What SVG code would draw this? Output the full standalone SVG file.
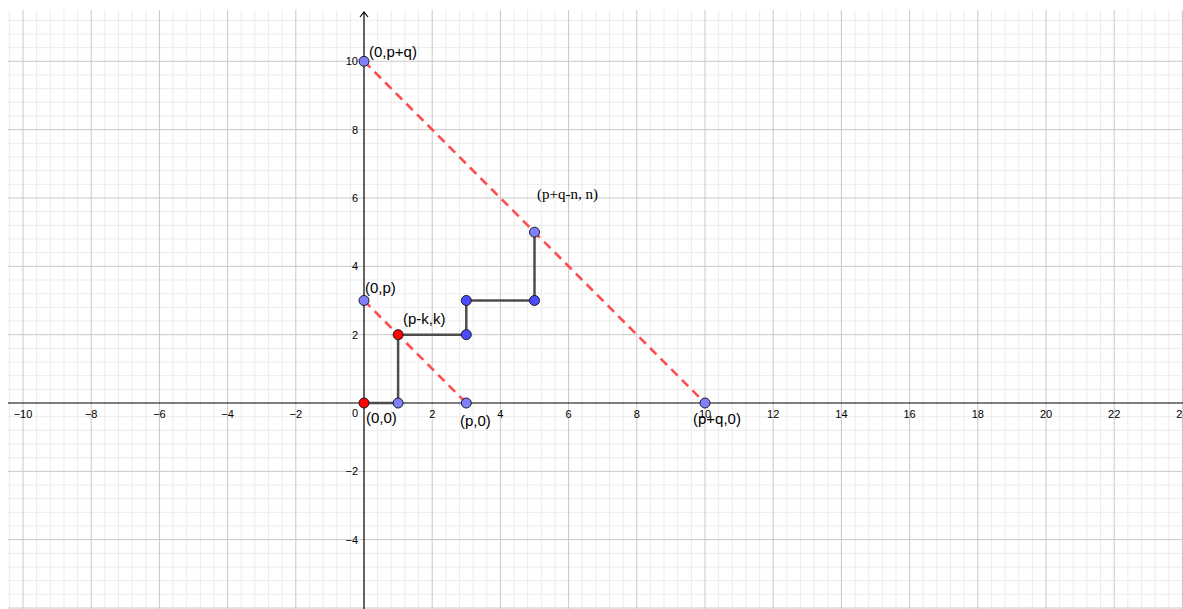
<svg xmlns="http://www.w3.org/2000/svg" width="1183" height="609" viewBox="0 0 1183 609">
<style>
.minor{stroke:#ececec;stroke-width:1;fill:none}
.major{stroke:#c8c8c8;stroke-width:1;fill:none}
.axis{stroke:#000;stroke-width:1.2;fill:none}
.tick{font-family:"Liberation Sans",Arial,sans-serif;font-size:11px;fill:#000}
.tx{text-anchor:middle}
.ty{text-anchor:end}
.lbl{font-family:"Liberation Sans",Arial,sans-serif;font-size:15px;fill:#000}
.lbls{font-family:"Liberation Serif","Times New Roman",serif;font-size:15px;fill:#000}
.dash{stroke:#ff4d4d;stroke-width:2.6;stroke-dasharray:9 6;fill:none}
.seg{stroke:#4d4d4d;stroke-width:2.5;fill:none}
.pl{fill:#8080ff;stroke:#1a1a1a;stroke-width:1}
.pd{fill:#4d4dff;stroke:#1a1a1a;stroke-width:1}
.pr{fill:#ff0000;stroke:#1a1a1a;stroke-width:1}
</style>
<rect width="1183" height="609" fill="#fff"/>
<g id="grid">
<path class="minor" d="M9.36 10V609M36.64 10V609M50.28 10V609M63.92 10V609M77.56 10V609M104.84 10V609M118.48 10V609M132.12 10V609M145.76 10V609M173.04 10V609M186.68 10V609M200.32 10V609M213.96 10V609M241.24 10V609M254.88 10V609M268.52 10V609M282.16 10V609M309.44 10V609M323.08 10V609M336.72 10V609M350.36 10V609M377.64 10V609M391.28 10V609M404.92 10V609M418.56 10V609M445.84 10V609M459.48 10V609M473.12 10V609M486.76 10V609M514.04 10V609M527.68 10V609M541.32 10V609M554.96 10V609M582.24 10V609M595.88 10V609M609.52 10V609M623.16 10V609M650.44 10V609M664.08 10V609M677.72 10V609M691.36 10V609M718.64 10V609M732.28 10V609M745.92 10V609M759.56 10V609M786.84 10V609M800.48 10V609M814.12 10V609M827.76 10V609M855.04 10V609M868.68 10V609M882.32 10V609M895.96 10V609M923.24 10V609M936.88 10V609M950.52 10V609M964.16 10V609M991.44 10V609M1005.08 10V609M1018.72 10V609M1032.36 10V609M1059.64 10V609M1073.28 10V609M1086.92 10V609M1100.56 10V609M1127.84 10V609M1141.48 10V609M1155.12 10V609M1168.76 10V609"/>
<path class="minor" d="M8 20.3H1183M8 33.96H1183M8 47.63H1183M8 74.97H1183M8 88.64H1183M8 102.3H1183M8 115.97H1183M8 143.31H1183M8 156.98H1183M8 170.64H1183M8 184.31H1183M8 211.65H1183M8 225.32H1183M8 238.98H1183M8 252.65H1183M8 279.99H1183M8 293.66H1183M8 307.32H1183M8 320.99H1183M8 348.33H1183M8 361.99H1183M8 375.66H1183M8 389.33H1183M8 416.67H1183M8 430.34H1183M8 444H1183M8 457.67H1183M8 485.01H1183M8 498.68H1183M8 512.34H1183M8 526.01H1183M8 553.35H1183M8 567.02H1183M8 580.68H1183M8 594.35H1183"/>
<path class="major" d="M23 10V609M91.2 10V609M159.4 10V609M227.6 10V609M295.8 10V609M432.2 10V609M500.4 10V609M568.6 10V609M636.8 10V609M705 10V609M773.2 10V609M841.4 10V609M909.6 10V609M977.8 10V609M1046 10V609M1114.2 10V609M1182.4 10V609"/>
<path class="major" d="M8 61.3H1183M8 129.64H1183M8 197.98H1183M8 266.32H1183M8 334.66H1183M8 471.34H1183M8 539.68H1183M8 608H1183"/>
</g>
<g id="axes">
<path class="axis" d="M8 403H1183M364 12V609"/>
<path class="axis" d="M360 17L364 12L368 17"/>
</g>
<g id="tick-labels">
<text class="tick tx" x="23" y="418">−10</text>
<text class="tick tx" x="91.2" y="418">−8</text>
<text class="tick tx" x="159.4" y="418">−6</text>
<text class="tick tx" x="227.6" y="418">−4</text>
<text class="tick tx" x="295.8" y="418">−2</text>
<text class="tick tx" x="432.2" y="418">2</text>
<text class="tick tx" x="500.4" y="418">4</text>
<text class="tick tx" x="568.6" y="418">6</text>
<text class="tick tx" x="636.8" y="418">8</text>
<text class="tick tx" x="705" y="418">10</text>
<text class="tick tx" x="773.2" y="418">12</text>
<text class="tick tx" x="841.4" y="418">14</text>
<text class="tick tx" x="909.6" y="418">16</text>
<text class="tick tx" x="977.8" y="418">18</text>
<text class="tick tx" x="1046" y="418">20</text>
<text class="tick tx" x="1114.2" y="418">22</text>
<text class="tick tx" x="1182.4" y="418">24</text>
<text class="tick ty" x="358" y="417">0</text>
<text class="tick ty" x="358" y="65.3">10</text>
<text class="tick ty" x="358" y="133.6">8</text>
<text class="tick ty" x="358" y="202">6</text>
<text class="tick ty" x="358" y="270.3">4</text>
<text class="tick ty" x="358" y="338.7">2</text>
<text class="tick ty" x="358" y="475.3">−2</text>
<text class="tick ty" x="358" y="543.7">−4</text>
</g>
<g id="connectors">
<path class="dash" d="M364 61.3L705 403"/>
<path class="dash" d="M364 300.49L466.3 403"/>
<path class="seg" d="M364 403H398.1V334.66H466.3V300.49H534.5V232.15"/>
</g>
<g id="node-0-pq"><circle class="pl" cx="364" cy="61.3" r="5"/><text class="lbl" x="369" y="57">(0,p+q)</text></g>
<g id="node-0-p"><circle class="pl" cx="364" cy="300.49" r="5"/><text class="lbl" x="365" y="293">(0,p)</text></g>
<g id="node-pk-k"><circle class="pr" cx="398.1" cy="334.66" r="5"/><text class="lbl" x="403" y="324">(p-k,k)</text></g>
<g id="node-0-0"><circle class="pr" cx="364" cy="403" r="5"/><text class="lbl" x="366" y="423">(0,0)</text></g>
<g id="node-1-0"><circle class="pl" cx="398.1" cy="403" r="5"/></g>
<g id="node-p-0"><circle class="pl" cx="466.3" cy="403" r="5"/><text class="lbl" x="460" y="426">(p,0)</text></g>
<g id="node-pq-0"><circle class="pl" cx="705" cy="403" r="5"/><text class="lbl" x="693" y="424">(p+q,0)</text></g>
<g id="node-3-2"><circle class="pd" cx="466.3" cy="334.66" r="5"/></g>
<g id="node-3-3"><circle class="pd" cx="466.3" cy="300.49" r="5"/></g>
<g id="node-5-3"><circle class="pd" cx="534.5" cy="300.49" r="5"/></g>
<g id="node-n"><circle class="pl" cx="534.5" cy="232.15" r="5"/><text class="lbls" x="537" y="199">(p+q-n, n)</text></g>
</svg>
